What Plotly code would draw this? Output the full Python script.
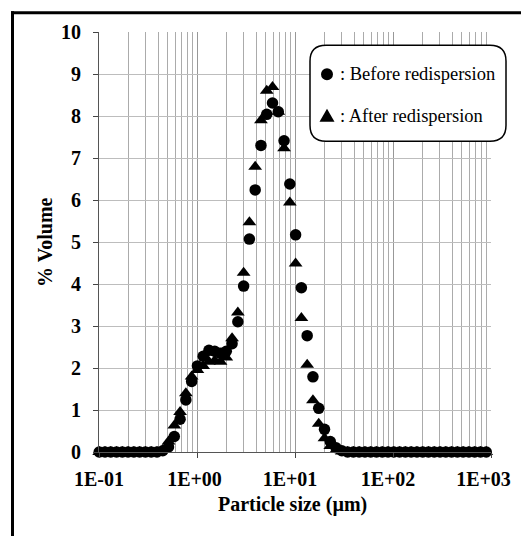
import plotly.graph_objects as go

# Particle size bins (µm)
sizes = [0.1005, 0.1151, 0.1318, 0.1510, 0.1729, 0.1981, 0.2269, 0.2599, 0.2976, 0.3409,
         0.3905, 0.4472, 0.5122, 0.5867, 0.6720, 0.7697, 0.8816, 1.0097, 1.1565, 1.3246,
         1.5172, 1.7377, 1.9904, 2.2797, 2.6111, 2.9907, 3.4255, 3.9234, 4.4938, 5.1471,
         5.8953, 6.7523, 7.7339, 8.8583, 10.146, 11.621, 13.310, 15.245, 17.462, 20.000,
         22.908, 26.238, 30.052, 34.421, 39.424, 45.156, 51.720, 59.239, 67.850, 77.714,
         89.012, 101.95, 116.77, 133.75, 153.19, 175.46, 200.97, 230.18, 263.65, 301.97,
         345.87, 396.15, 453.74, 519.71, 595.26, 681.79, 780.90, 894.43, 1024.45]

before = [0, 0, 0, 0, 0, 0, 0, 0, 0, 0,
          0, 0.03, 0.12, 0.37, 0.78, 1.24, 1.68, 2.05, 2.28, 2.42,
          2.40, 2.35, 2.40, 2.58, 3.10, 3.95, 5.07, 6.24, 7.30, 8.04,
          8.31, 8.10, 7.41, 6.38, 5.17, 3.91, 2.77, 1.79, 1.04, 0.54,
          0.25, 0.10, 0.03, 0, 0, 0, 0, 0, 0, 0,
          0, 0, 0, 0, 0, 0, 0, 0, 0, 0,
          0, 0, 0, 0, 0, 0, 0, 0, 0]

after = [0, 0, 0, 0, 0, 0, 0, 0, 0, 0,
         0, 0.05, 0.25, 0.63, 0.95, 1.40, 1.80, 1.95, 2.05, 2.15,
         2.18, 2.15, 2.25, 2.71, 3.32, 4.27, 5.47, 6.79, 7.90, 8.60,
         8.69, 8.10, 7.23, 5.94, 4.49, 3.19, 2.08, 1.23, 0.67, 0.33,
         0.14, 0.05, 0.01, 0, 0, 0, 0, 0, 0, 0,
         0, 0, 0, 0, 0, 0, 0, 0, 0, 0,
         0, 0, 0, 0, 0, 0, 0, 0, 0]

x_tickvals = [0.1, 1, 10, 100, 1000]
x_ticktext = ["1E-01", "1E+00", "1E+01", "1E+02", "1E+03"]
y_tickvals = list(range(0, 11))
legend_labels = [": Before redispersion", ": After redispersion"]

FONT = "Liberation Serif"
OFF = 8  # page body margin
W, H = 529 - OFF, 536 - OFF
# plot area in page pixels
L, R, T, B = 99, 491, 31.7, 452.3
PW, PH = R - L, B - T

def px(x):
    return (x - L) / PW

def py(y):
    return (B - y) / PH

# labels in the source sit slightly left of their ticks; pad with no-break spaces
pad = [0, 1, 2, 2, 3]
x_ticklabels = [t + "\u00a0" * n for t, n in zip(x_ticktext, pad)]

fig = go.Figure()
fig.add_trace(go.Scatter(x=sizes, y=before, mode="markers",
                         marker=dict(symbol="circle", size=11.5, color="black"),
                         cliponaxis=False, showlegend=False))
fig.add_trace(go.Scatter(x=sizes, y=after, mode="markers",
                         marker=dict(symbol="triangle-up", size=12, color="black"),
                         cliponaxis=False, showlegend=False))

minor_vals = [m * 10 ** e for e in range(-1, 3) for m in range(2, 10)]

fig.update_xaxes(type="log", range=[-1, 3], tickvals=x_tickvals, ticktext=x_ticklabels,
                 automargin=False,
                 showgrid=True, gridcolor="#989898", gridwidth=1,
                 minor=dict(tickvals=minor_vals, showgrid=True, gridcolor="#ababab",
                            gridwidth=1, ticks=""),
                 ticks="outside", ticklen=5, tickcolor="#444", showline=True,
                 linecolor="#555", linewidth=1, zeroline=False,
                 tickfont=dict(family=FONT, size=20, color="black", weight="bold"),
                 ticklabelstandoff=4)
fig.update_yaxes(range=[0, 10], tickvals=y_tickvals, automargin=False,
                 showgrid=True, gridcolor="#bdbdbd",
                 gridwidth=1, ticks="outside", ticklen=5, tickcolor="#444", showline=True,
                 linecolor="#555", linewidth=1, zeroline=False,
                 tickfont=dict(family=FONT, size=20, color="black", weight="bold"),
                 ticklabelstandoff=8)

shapes = []
# outer frame (only top and left edges fall inside the picture), as filled bars
shapes.append(dict(type="rect", xref="paper", yref="paper",
                   x0=px(11), x1=px(545), y0=py(14), y1=py(11),
                   fillcolor="black", line=dict(width=0), layer="above"))
shapes.append(dict(type="rect", xref="paper", yref="paper",
                   x0=px(11), x1=px(14), y0=py(550), y1=py(11),
                   fillcolor="black", line=dict(width=0), layer="above"))
# rounded legend box
bx0, bx1, by0, by1, r = 310, 506, 45, 141, 16
path = (f"M {px(bx0 + r)},{py(by0)} L {px(bx1 - r)},{py(by0)} "
        f"Q {px(bx1)},{py(by0)} {px(bx1)},{py(by0 + r)} "
        f"L {px(bx1)},{py(by1 - r)} Q {px(bx1)},{py(by1)} {px(bx1 - r)},{py(by1)} "
        f"L {px(bx0 + r)},{py(by1)} Q {px(bx0)},{py(by1)} {px(bx0)},{py(by1 - r)} "
        f"L {px(bx0)},{py(by0 + r)} Q {px(bx0)},{py(by0)} {px(bx0 + r)},{py(by0)} Z")
shapes.append(dict(type="path", xref="paper", yref="paper", path=path,
                   line=dict(color="black", width=1.5), fillcolor="white", layer="above"))
# legend markers
cx, cy1, cy2 = 327, 74, 115.5
shapes.append(dict(type="circle", xref="paper", yref="paper",
                   x0=px(cx - 6), x1=px(cx + 6), y0=py(cy1 - 6), y1=py(cy1 + 6),
                   line=dict(color="black", width=0), fillcolor="black", layer="above"))
shapes.append(dict(type="path", xref="paper", yref="paper",
                   path=f"M {px(cx - 7.5)},{py(cy2 + 6)} L {px(cx + 7.5)},{py(cy2 + 6)} L {px(cx)},{py(cy2 - 7)} Z",
                   line=dict(color="black", width=0), fillcolor="black", layer="above"))

annotations = [
    dict(text=legend_labels[0], xref="paper", yref="paper", x=px(338), y=py(cy1),
         xanchor="left", yanchor="middle", showarrow=False,
         font=dict(family=FONT, size=18.5, color="black")),
    dict(text=legend_labels[1], xref="paper", yref="paper", x=px(338), y=py(cy2),
         xanchor="left", yanchor="middle", showarrow=False,
         font=dict(family=FONT, size=18.5, color="black")),
    dict(text="<b>Particle size (µm)</b>", xref="paper", yref="paper", x=px(292), y=py(505),
         xanchor="center", yanchor="middle", showarrow=False,
         font=dict(family=FONT, size=20, color="black")),
    dict(text="<b>% Volume</b>", xref="paper", yref="paper", x=px(45), y=py(242),
         xanchor="center", yanchor="middle", textangle=-90, showarrow=False,
         font=dict(family=FONT, size=20, color="black")),
]

fig.update_layout(width=W, height=H,
                  margin=dict(l=L - OFF, r=529 - R, t=T - OFF, b=536 - B),
                  paper_bgcolor="white", plot_bgcolor="white",
                  shapes=shapes, annotations=annotations,
                  font=dict(family=FONT, size=20, color="black"),
                  showlegend=False)

fig.write_html("out.html")
